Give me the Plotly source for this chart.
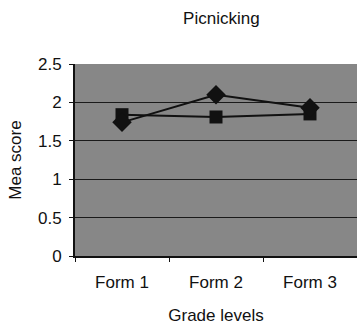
import plotly.graph_objects as go

categories = ["Form 1", "Form 2", "Form 3"]
series_diamond = [1.74, 2.1, 1.93]
series_square = [1.84, 1.81, 1.85]
y_ticks = [0, 0.5, 1, 1.5, 2, 2.5]
y_tick_labels = ["0", "0.5", "1", "1.5", "2", "2.5"]

FONT = "Liberation Sans, Arial, sans-serif"

fig = go.Figure()
fig.add_trace(go.Scatter(
    x=categories, y=series_square, mode="lines+markers",
    line=dict(color="#111111", width=2),
    marker=dict(symbol="square", size=13, color="#111111"),
    showlegend=False,
))
fig.add_trace(go.Scatter(
    x=categories, y=series_diamond, mode="lines+markers",
    line=dict(color="#111111", width=2),
    marker=dict(symbol="diamond", size=15, color="#111111"),
    showlegend=False,
))

fig.update_layout(
    width=357, height=335,
    margin=dict(l=75, r=0, t=64, b=79),
    paper_bgcolor="white",
    plot_bgcolor="#878787",
    font=dict(family=FONT, size=17, color="#111111"),
    title=dict(text="Picnicking", x=0.62, xanchor="center", y=0.945, yanchor="middle",
               font=dict(size=17, family=FONT, color="#111111")),
    xaxis=dict(
        type="category", range=[-0.5, 2.5],
        showline=True, linecolor="#111111", linewidth=2,
        ticks="outside", tickson="boundaries", ticklen=4, tickcolor="#111111",
        showgrid=False, tickfont=dict(size=17), ticklabelstandoff=10,
        title=dict(text="Grade levels", font=dict(size=17), standoff=18),
    ),
    yaxis=dict(
        range=[0, 2.5], tickvals=y_ticks, ticktext=y_tick_labels,
        showline=True, linecolor="#111111", linewidth=2,
        ticks="outside", ticklen=4, tickcolor="#111111",
        showgrid=True, gridcolor="#1a1a1a", gridwidth=1,
        zeroline=False, tickfont=dict(size=17), ticklabelstandoff=4,
        title=dict(text="Mea score", font=dict(size=17), standoff=12),
    ),
)

fig.write_html("out.html")
